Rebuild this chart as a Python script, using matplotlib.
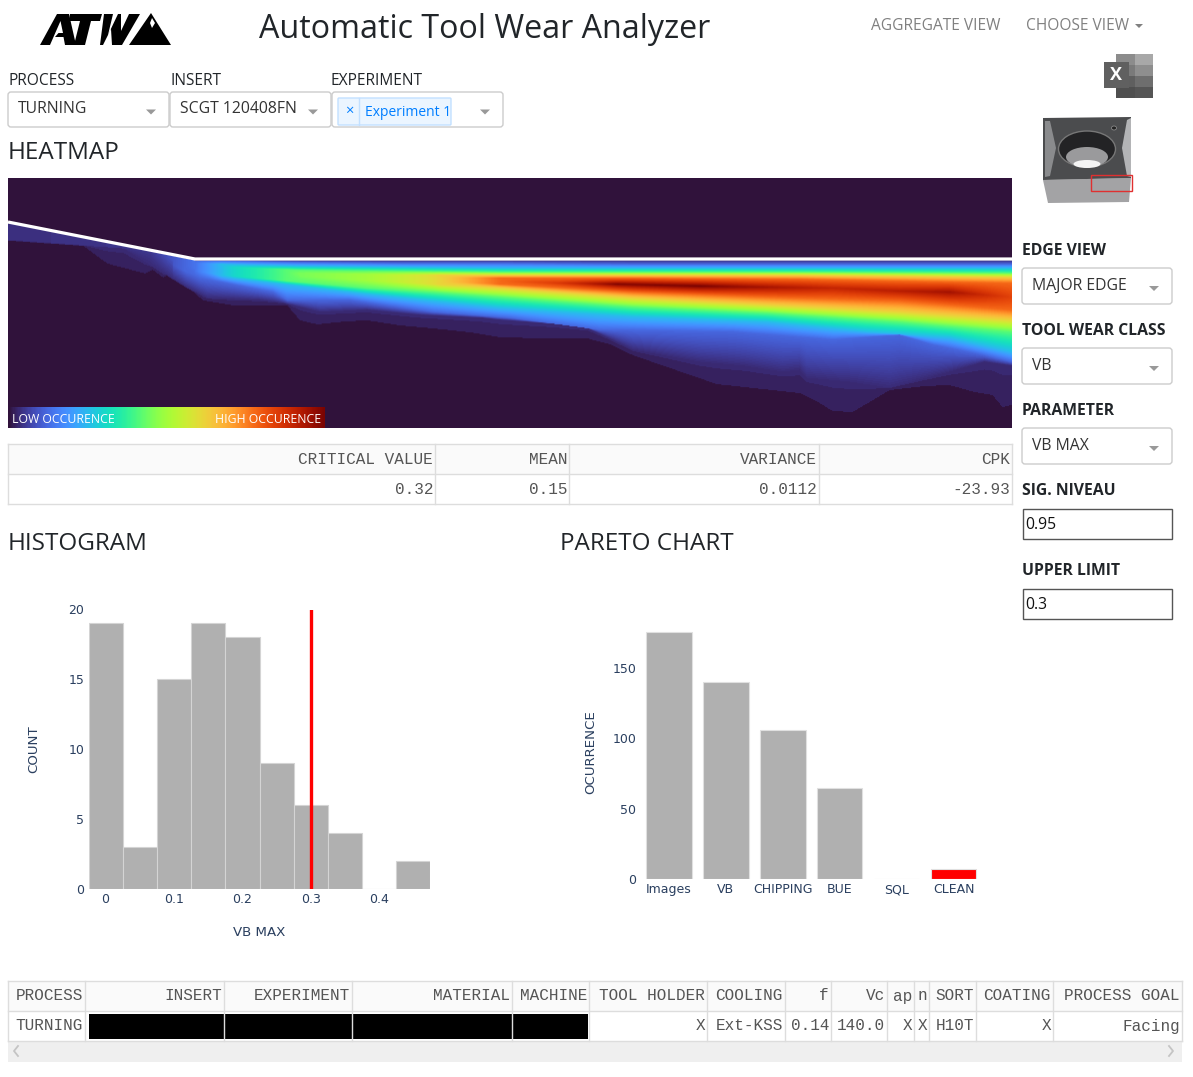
import numpy as np
import matplotlib
matplotlib.use('Agg')
import matplotlib.pyplot as plt
from matplotlib.patches import Rectangle, Polygon, Ellipse, FancyBboxPatch

W, H = 1193, 1077
UI_FONT = 'Open Sans'
MONO_FONT = 'Liberation Mono'
PLOT_FONT = 'DejaVu Sans'
AXIS_COL = '#2a3f5f'

# histogram (VB MAX)
hist_centers = [0, 0.05, 0.1, 0.15, 0.2, 0.25, 0.3, 0.35, 0.4, 0.45]
hist_counts = [19, 3, 15, 19, 18, 9, 6, 4, 0, 2]
upper_limit = 0.3

# pareto chart
pareto_labels = ['Images', 'VB', 'CHIPPING', 'BUE', 'SQL', 'CLEAN']
pareto_values = [176, 140, 106, 65, 0, 7]
pareto_colors = ['#b0b0b0', '#b0b0b0', '#b0b0b0', '#b0b0b0', '#b0b0b0', '#ff0000']

# stats table
stats_headers = ['CRITICAL VALUE', 'MEAN', 'VARIANCE', 'CPK']
stats_values = ['0.32', '0.15', '0.0112', '-23.93']
stats_edges = [8, 435, 569, 819, 1012]

# bottom table
info_headers = ['PROCESS', 'INSERT', 'EXPERIMENT', 'MATERIAL', 'MACHINE', 'TOOL HOLDER',
                'COOLING', 'f', 'Vc', 'ap', 'n', 'SORT', 'COATING', 'PROCESS GOAL']
info_values = ['TURNING', '', '', '', '', 'X', 'Ext-KSS', '0.14', '140.0', 'X', 'X', 'H10T', 'X', 'Facing']
info_edges = [8, 85, 224, 352, 512, 589, 707, 785, 831, 887, 914, 929, 976, 1053, 1182]

# heatmap: cutting edge line and the contour lines
edge_x = [8, 195, 1012]
edge_y = [222, 259, 259]

low1_x = [8, 50, 80, 107, 145, 152, 163, 170, 182, 203, 233, 287, 300, 317, 345, 367, 400, 433, 470, 500,
          543, 587, 610, 633, 717, 800, 815, 833, 853, 870, 890, 925, 950, 975, 993, 1003, 1012]
low1_y = [232, 238, 243, 263, 273, 269, 277, 272, 282, 300, 305, 305, 320, 324, 321, 320, 325, 328, 332, 337,
          338, 338, 344, 355, 384, 393, 400, 411, 412, 402, 390, 386, 385, 392, 395, 407, 405]
low2_x = [8, 123, 187, 207, 260, 283, 320, 367, 420, 483, 500, 583, 633, 700, 745, 783, 800, 807, 850, 890,
          920, 950, 985, 1012]
low2_y = [225, 248, 288, 298, 300, 303, 312, 310, 315, 318, 320, 326, 350, 362, 366, 372, 370, 378, 382, 388,
          380, 372, 362, 366]
low3_x = [173, 200, 273, 287, 350, 433, 510, 600, 733, 833, 900, 933, 983, 1012]
low3_y = [265, 278, 292, 300, 300, 312, 318, 330, 332, 340, 335, 345, 355, 362]
low4_x = [195, 233, 300, 367, 433, 500, 633, 767, 867, 950, 1012]
low4_y = [270, 278, 286, 294, 301, 308, 317, 322, 332, 338, 352]
low5_x = [195, 233, 300, 367, 433, 500, 633, 767, 900, 1012]
low5_y = [271, 276, 282, 288, 292, 297, 307, 313, 322, 332]
low6_x = [300, 433, 500, 633, 767, 900, 1012]
low6_y = [276, 284, 288, 298, 305, 312, 320]
low7_x = [433, 500, 633, 767, 900, 1012]
low7_y = [281, 284, 292, 297, 301, 310]

up_x = [195, 250, 300, 400, 500, 633, 800, 1012]
up3_y = [260, 261, 262, 263, 263, 264, 264, 264]
up4_y = [263, 265, 266, 267, 268, 268, 268, 268]
up5_y = [265, 268, 270, 271, 272, 272, 272, 273]
up6_y = [267, 270, 273, 275, 275, 275, 275, 277]
up7_y = [268, 272, 275, 277, 278, 278, 279, 283]

peak_x = [8, 150, 195, 233, 300, 367, 433, 500, 560, 617, 700, 760, 833, 900, 950, 1012]
peak_y = [240, 250, 268, 272, 274, 276, 279, 281, 283, 284, 286, 287, 288, 291, 292, 297]
peak_v = [0.04, 0.05, 0.14, 0.3, 0.45, 0.5, 0.6, 0.78, 0.86, 0.99, 1.0, 0.95, 0.9, 0.92, 0.95, 0.84]

plt.rcParams['font.family'] = [UI_FONT, 'DejaVu Sans']

fig = plt.figure(figsize=(W / 100, H / 100), dpi=100)
bg = fig.add_axes([0, 0, 1, 1])
bg.set_xlim(0, W)
bg.set_ylim(H, 0)
bg.axis('off')


def px_axes(left, top, right, bottom):
    return fig.add_axes([left / W, 1 - bottom / H, (right - left) / W, (bottom - top) / H])


def label(x, y, s, size=11, color='#212529', ha='left', **kw):
    bg.text(x, y, s, fontsize=size, color=color, ha=ha, va='center', **kw)


def dropdown(left, top, right, bottom, text=None):
    bg.add_patch(FancyBboxPatch((left + 3, top + 3), right - left - 6, bottom - top - 6,
                                boxstyle='round,pad=3', fc='white', ec='#cccccc', lw=1))
    ym = (top + bottom) / 2 + 2
    bg.add_patch(Polygon([[right - 23, ym - 2], [right - 13, ym - 2], [right - 18, ym + 3]], fc='#999999', ec='none'))
    if text:
        label(left + 10, (top + bottom) / 2 - 0.5, text, size=11.3, color='#333333')


# ---- header ----
logo_polys = [
    [(40, 45), (57, 14), (69, 14), (76, 45), (65, 45), (63.5, 37), (55, 37), (58.5, 33), (63, 33), (60.5, 21), (50, 45)],
    [(70, 14), (102, 14), (100, 21), (91, 21), (85, 45), (74, 45), (80, 21), (69, 21)],
    [(104, 14), (113, 14), (108, 35), (118, 14), (121, 14), (121, 31), (129, 14), (140, 14), (122, 45), (112, 45), (111, 29), (103, 45), (100, 45)],
    [(129, 45), (151, 13), (171, 45)],
]
for p in logo_polys:
    bg.add_patch(Polygon(p, fc='black', ec='none'))
bg.add_patch(Polygon([(152, 18), (155, 23), (152, 28), (150, 23)], fc='white', ec='none'))

label(259, 29, 'Automatic Tool Wear Analyzer', size=23.2, color='#212529')
label(871, 26.5, 'AGGREGATE VIEW', size=11.2, color='#808080')
label(1026, 26.5, 'CHOOSE VIEW', size=11.2, color='#808080')
bg.add_patch(Polygon([[1135, 24], [1143, 24], [1139, 28]], fc='#808080', ec='none'))

# ---- selectors ----
label(8, 81, 'PROCESS', size=11.2)
label(170, 81, 'INSERT', size=11.2)
label(331, 81, 'EXPERIMENT', size=11.2)
dropdown(8, 92, 169, 127, 'TURNING')
dropdown(170, 92, 331, 127, 'SCGT 120408FN')
dropdown(332, 92, 503, 127)
bg.add_patch(FancyBboxPatch((339, 99), 111, 25, boxstyle='round,pad=1', fc='#ebf5ff', ec='#c2e0ff', lw=1))
bg.plot([359, 359], [98, 125], color='#c2e0ff', lw=1)
label(349, 111, '×', size=10.5, color='#007eff', ha='center')
label(365, 112, 'Experiment 1', size=10, color='#007eff')

label(8, 153, 'HEATMAP', size=17.5)
label(8, 544, 'HISTOGRAM', size=17.5)
label(560, 544, 'PARETO CHART', size=17.5)

# ---- right hand panel ----
for y, txt in [(251, 'EDGE VIEW'), (331, 'TOOL WEAR CLASS'), (411, 'PARAMETER'), (491, 'SIG. NIVEAU'), (571, 'UPPER LIMIT')]:
    label(1022, y, txt, size=11.3, fontweight='bold')
dropdown(1022, 268, 1172, 304, 'MAJOR EDGE')
dropdown(1022, 348, 1172, 384, 'VB')
dropdown(1022, 428, 1172, 464, 'VB MAX')
for top, txt in [(508, '0.95'), (588, '0.3')]:
    bg.add_patch(Rectangle((1022.5, top + 0.5), 149, 30, fc='white', ec='#555555', lw=1))
    label(1025, top + 17, txt, size=11.3, color='#111111')

# excel icon
for i, g in enumerate(['#a8a8a8', '#8e8e8e', '#6e6e6e', '#555555']):
    bg.add_patch(Rectangle((1116, 54 + i * 11), 18.5, 11, fc=['#8c8c8c', '#7a7a7a', '#5f5f5f', '#4f4f4f'][i], ec='none'))
    bg.add_patch(Rectangle((1134.5, 54 + i * 11), 18.5, 11, fc=g, ec='none'))
bg.add_patch(Rectangle((1104, 62), 25, 26, fc='#606060', ec='none'))
bg.text(1116.5, 75, 'X', fontsize=13, fontweight='bold', color='white', ha='center', va='center')

# insert picture
bg.add_patch(Polygon([(1043, 180), (1131, 178), (1129, 202), (1048, 203)], fc='#a3a3a5', ec='none'))
bg.add_patch(Polygon([(1043, 118), (1131, 117), (1131, 178), (1043, 180)], fc='#4b4c4e', ec='none'))
bg.add_patch(Polygon([(1045, 121), (1050, 121), (1056, 148), (1050, 176), (1045, 177)], fc='#8a8b8d', ec='none'))
bg.add_patch(Polygon([(1127, 120), (1131, 118), (1131, 177), (1127, 176), (1122, 148)], fc='#b3b4b6', ec='none'))
bg.add_patch(Ellipse((1087, 149), 57, 36, fc='#232325', ec='#777777', lw=1))
bg.add_patch(Ellipse((1087, 157), 42, 20, fc='#9a9a9c', ec='none'))
bg.add_patch(Ellipse((1087, 164), 27, 8, fc='#f4f4f4', ec='none'))
bg.add_patch(Ellipse((1114, 128), 5, 4, fc='#222222', ec='#888888', lw=0.6))
bg.add_patch(Rectangle((1091, 175), 41, 15.5, fc='none', ec='#e03030', lw=1))

# ---- heatmap ----
lows = [(low1_x, low1_y), (low2_x, low2_y), (low3_x, low3_y), (low4_x, low4_y),
        (low5_x, low5_y), (low6_x, low6_y), (low7_x, low7_y)]
ups = [up3_y, up4_y, up5_y, up6_y, up7_y]
low_levels = [0.015, 0.035, 0.12, 0.25, 0.42, 0.62, 0.78]
up_levels = [0.12, 0.25, 0.42, 0.62, 0.78]

col_x = np.arange(8, 1013)
row_y = np.arange(178, 429)
field = np.zeros((len(row_y), len(col_x)))
for j, x in enumerate(col_x):
    top = np.interp(x, edge_x, edge_y) + 1
    pk_y = max(np.interp(x, peak_x, peak_y), top + 1)
    pk_v = np.interp(x, peak_x, peak_v)
    # nodes running down the column: above the edge -> peak -> lower silhouette
    ny = [top - 1, top]
    nv = [0.0, min(0.035, pk_v)]
    for lv, uy in zip(up_levels, ups):
        yy = np.interp(x, up_x, uy) if x >= up_x[0] else top
        ny.append(max(yy, top, ny[-1]))
        nv.append(min(lv, pk_v))
    ny.append(max(pk_y, ny[-1]))
    nv.append(pk_v)
    for (lx, ly), lv in zip(lows[::-1], low_levels[::-1]):
        yy = np.interp(x, lx, ly) if x >= lx[0] else top
        ny.append(max(yy, ny[-1]))
        nv.append(min(lv, pk_v))
    # step at the two outer contours
    ny += [ny[-1] + 0.5]
    nv += [0.0]
    ny = np.array(ny) + np.arange(len(ny)) * 1e-6
    field[:, j] = np.interp(row_y, ny, nv, left=0.0, right=0.0)

# dark band edges are stepped in the picture, snap lowest values onto them
field = np.where(field < 0.035, np.where(field >= 0.015, np.where(field >= 0.03, 0.035, 0.022), np.where(field > 0.001, 0.022, 0)), field)

heat = px_axes(8, 178, 1012, 428)
heat.imshow(field, cmap='turbo', vmin=0, vmax=1, aspect='auto', interpolation='bilinear',
            extent=[8, 1012, 428, 178])
heat.plot(edge_x, edge_y, color='white', lw=2.3, solid_joinstyle='miter', solid_capstyle='butt')
heat.set_xlim(8, 1012)
heat.set_ylim(428, 178)
heat.axis('off')

lg = px_axes(8, 407, 325, 428)
lg.imshow(np.linspace(0, 1, 320)[None, :], cmap='turbo', aspect='auto')
lg.axis('off')
lg.text(0.013, 0.42, 'LOW OCCURENCE', transform=lg.transAxes, color='white', fontsize=8.8, va='center')
lg.text(0.987, 0.42, 'HIGH OCCURENCE', transform=lg.transAxes, color='white', fontsize=8.8, va='center', ha='right')

# ---- tables ----
LINE = '#dddddd'
bg.add_patch(Rectangle((8, 443.5), 1004, 30, fc='#fafafa', ec='none'))
for y in [443.5, 473.5, 504]:
    bg.plot([8, 1012], [y, y], color=LINE, lw=1)
for x in stats_edges:
    bg.plot([x, x], [443.5, 504], color=LINE, lw=1)
for i, (h, v) in enumerate(zip(stats_headers, stats_values)):
    bg.text(stats_edges[i + 1] - 2, 459, h, family=MONO_FONT, fontsize=11.5, color='#555555', ha='right', va='center')
    bg.text(stats_edges[i + 1] - 2, 489, v, family=MONO_FONT, fontsize=11.5, color='#555555', ha='right', va='center')

bg.add_patch(Rectangle((8, 980.5), 1174, 30, fc='#fafafa', ec='none'))
for y in [980.5, 1010.5, 1040.5]:
    bg.plot([8, 1182], [y, y], color=LINE, lw=1)
for x in info_edges:
    bg.plot([x, x], [980.5, 1040.5], color=LINE, lw=1)
for i, (h, v) in enumerate(zip(info_headers, info_values)):
    bg.text(info_edges[i + 1] - 2, 996, h, family=MONO_FONT, fontsize=11.5, color='#555555', ha='right', va='center')
    if v:
        bg.text(info_edges[i + 1] - 2, 1026, v, family=MONO_FONT, fontsize=11.5, color='#555555', ha='right', va='center')
bg.add_patch(Rectangle((89, 1014), 499, 25, fc='black', ec='none'))
bg.add_patch(Rectangle((8, 1041), 1174, 21, fc='#efefef', ec='none'))
bg.plot([18, 14, 18], [1046, 1051, 1056], color='#c4c4c4', lw=1.3)
bg.plot([1169, 1173, 1169], [1046, 1051, 1056], color='#c4c4c4', lw=1.3)

# ---- histogram ----
ax = px_axes(88.5, 609.5, 430.5, 889)
ax.patch.set_alpha(0)
ax.bar(hist_centers, hist_counts, width=0.05, color='#b0b0b0', edgecolor='#d4d4d4', linewidth=0.8)
ax.plot([upper_limit, upper_limit], [0, 20], color='#ff0000', lw=2.4)
ax.set_xlim(-0.025, 0.475)
ax.set_ylim(0, 20)
ax.set_xticks([0, 0.1, 0.2, 0.3, 0.4], ['0', '0.1', '0.2', '0.3', '0.4'])
ax.set_yticks([0, 5, 10, 15, 20])
ax.tick_params(length=0, labelsize=9, labelcolor=AXIS_COL, pad=3, labelfontfamily=PLOT_FONT)
ax.set_xlabel('VB MAX', fontsize=9.6, color=AXIS_COL, labelpad=14, family=PLOT_FONT, x=0.5)
ax.set_ylabel('COUNT', fontsize=9.6, color=AXIS_COL, labelpad=20, family=PLOT_FONT)
for s in ax.spines.values():
    s.set_visible(False)

# ---- pareto ----
ax2 = px_axes(640.5, 626, 982, 879)
ax2.patch.set_alpha(0)
ax2.bar(range(6), pareto_values, width=0.8, color=pareto_colors, edgecolor='#e0e0e0', linewidth=0.8)
ax2.set_xlim(-0.5, 5.5)
ax2.set_ylim(0, 180)
ax2.set_xticks(range(6), pareto_labels)
ax2.set_yticks([0, 50, 100, 150])
ax2.tick_params(length=0, labelsize=9, labelcolor=AXIS_COL, pad=3, labelfontfamily=PLOT_FONT)
ax2.set_ylabel('OCURRENCE', fontsize=9.6, color=AXIS_COL, labelpad=11, family=PLOT_FONT)
for s in ax2.spines.values():
    s.set_visible(False)

fig.savefig('out.png', dpi=100)
